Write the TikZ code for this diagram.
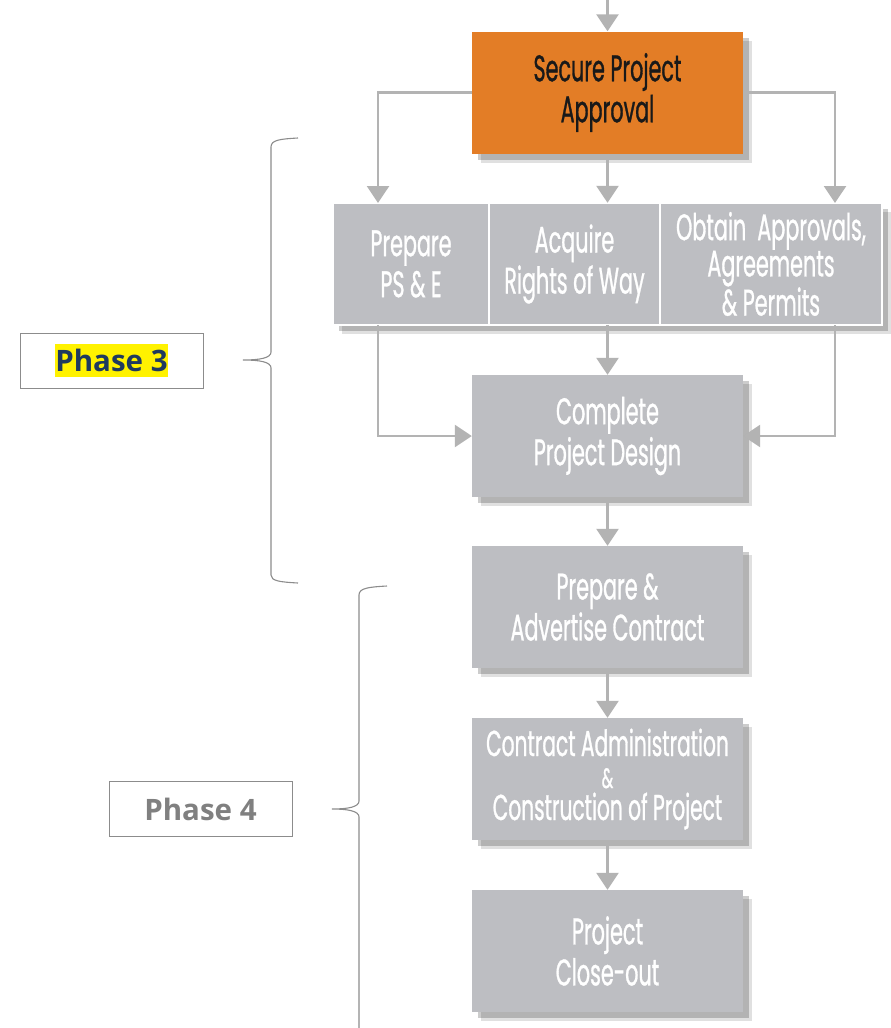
\documentclass[tikz,border=0pt]{standalone}
\usepackage{fontspec}
\usetikzlibrary{arrows.meta,shadows}
\newfontfamily\boxfont[FakeStretch=0.56,FakeBold=0.8]{Poppins}
\newfontfamily\phasefont{Open Sans}
\definecolor{boxgray}{HTML}{BDBEC2}
\definecolor{arrgray}{HTML}{B3B3B3}
\definecolor{apporange}{HTML}{E37D26}
\definecolor{bracegray}{HTML}{8C8C8C}
\definecolor{navy}{HTML}{1F3A5F}
\definecolor{phgray}{HTML}{808080}
\tikzset{
  shad/.style={drop shadow={shadow xshift=9pt,shadow yshift=-9pt,opacity=0.12,fill=black},
               drop shadow={shadow xshift=6pt,shadow yshift=-6pt,opacity=0.2,fill=black}},
  box/.style={shad,fill=boxgray,minimum width=271pt,minimum height=122pt,inner sep=0pt,
              align=center,text=white,font=\boxfont\fontsize{37}{41}\selectfont},
  cell/.style={fill=boxgray,draw=white,line width=1.5pt,minimum height=122pt,inner sep=0pt,
              align=center,text=white,font=\boxfont\fontsize{37}{41}\selectfont},
  arr/.style={draw=arrgray,line width=2.6pt,-{Triangle[width=22pt,length=17pt]}},
  brace/.style={draw=bracegray,line width=1.1pt},
  phasebox/.style={draw=bracegray,line width=1pt,minimum width=183pt,minimum height=55pt,inner sep=0pt}
}
\begin{document}
\begin{tikzpicture}[x=1pt,y=-1pt]
\useasboundingbox (0,0) rectangle (891,1028);
% main boxes
\node[box,fill=apporange,text=black!90] (sec) at (607.5,92.5) {Secure Project\\Approval};
\node[box,minimum width=549pt] (row) at (607.5,264) {};
\node[cell,minimum width=156pt] (pse) at (411,264) {Prepare\\PS \& E};
\node[cell,minimum width=171pt] (rw) at (574.5,264) {Acquire\\Rights of Way};
\node[cell,minimum width=222pt,font=\boxfont\fontsize{37}{34}\selectfont] (oap) at (771,264) {Obtain\ \ Approvals,\\Agreements\\\& Permits};
\node[box] (cpd) at (607.5,436) {Complete\\Project Design};
\node[box] (pac) at (607.5,607) {Prepare \&\\Advertise Contract};
\node[box,font=\boxfont\fontsize{36}{32}\selectfont] (cac) at (607.5,779) {Contract Administration\\{\fontsize{28}{32}\selectfont\&}\\Construction of Project};
\node[box] (pco) at (607.5,951) {Project\\Close-out};
% connector coordinates
\coordinate (top) at (607.5,0);
\coordinate (aL) at (378,203);
\coordinate (aR) at (835,203);
\coordinate (bL) at (378,325);
\coordinate (bR) at (835,325);
% connectors
\draw[arr] (top) -- (sec.north);
\draw[arr] (sec.west) -| (aL);
\draw[arr] (sec.east) -| (aR);
\draw[arr] (sec.south) -- (row.north);
\draw[arr] (bL) |- (cpd.west);
\draw[arr] (bR) |- (cpd.east);
\draw[arr] (row.south) -- (cpd.north);
\draw[arr] (cpd.south) -- (pac.north);
\draw[arr] (pac.south) -- (cac.north);
\draw[arr] (cac.south) -- (pco.north);
% braces
\draw[brace] (298,138) .. controls (280,139) and (271,140) .. (271,147) -- (271,352)
  .. controls (271,358) and (260,360) .. (243,360)
  .. controls (260,360) and (271,362) .. (271,368) -- (271,575)
  .. controls (271,581) and (280,582) .. (298,583);
\draw[brace] (387,586) .. controls (369,587) and (359,588) .. (359,595) -- (359,801)
  .. controls (359,807) and (348,809) .. (332,809)
  .. controls (348,809) and (359,811) .. (359,817) -- (359,1028);
% phase labels
\node[phasebox] (ph3) at (111.5,360.5) {};
\node[fill=yellow,inner xsep=0pt,inner ysep=5pt,text=navy,font=\phasefont\bfseries\fontsize{29.5}{31}\selectfont] (ph3t) at (ph3.center) {Phase 3};
\node[phasebox] (ph4) at (200.5,809) {};
\node[inner sep=0pt,text=phgray,font=\phasefont\bfseries\fontsize{29.5}{31}\selectfont] (ph4t) at (ph4.center) {Phase 4};
\end{tikzpicture}
\end{document}
